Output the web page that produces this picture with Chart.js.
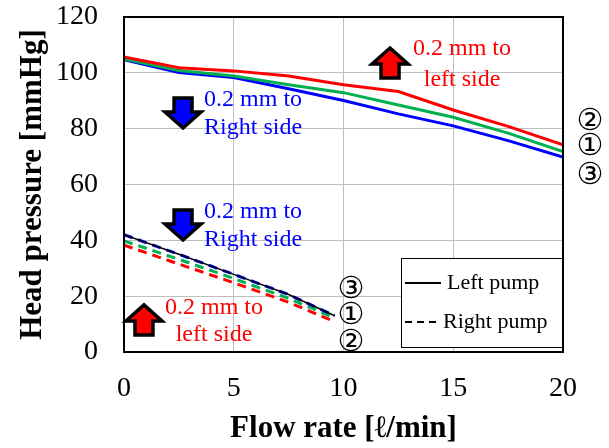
<!DOCTYPE html>
<html>
<head>
<meta charset="utf-8">
<script src="https://cdn.jsdelivr.net/npm/chart.js@4"></script>
<style>
  body { margin: 0; background: #fff; }
  canvas { display: block; }
</style>
</head>
<body>
<canvas id="pumpChart" width="609" height="448"></canvas>
<script>
// Flow rate points
const flowUpper = [0, 2.5, 5, 7.5, 10, 12.5, 15, 17.5, 20];
const flowLower = [0, 2.5, 5, 7.5, 9.6];

// Left pump (solid) head pressure, mmHg
const leftRed   = [105.7, 101.8, 100.7, 98.9, 95.7, 93.3, 86.7, 80.8, 74.2];
const leftGreen = [105.0, 100.8, 98.9, 95.7, 92.9, 88.5, 84.1, 78.4, 71.8];
const leftBlue  = [104.7, 100.1, 98.3, 94.3, 90.1, 85.3, 81.0, 75.7, 69.8];

// Right pump (dashed) head pressure, mmHg
const rightBlue  = [42.0, 35.0, 27.8, 20.6, 13.0];
const rightGreen = [39.8, 33.2, 26.3, 19.2, 12.2];
const rightRed   = [38.3, 31.5, 24.8, 17.8, 10.9];

const xTicks = [0, 5, 10, 15, 20];
const yTicks = [0, 20, 40, 60, 80, 100, 120];

const RED = '#ff0000', GREEN = '#00b050', BLUE = '#0000ff';
const SERIF = '"Liberation Serif", "Times New Roman", serif';

const pts = (xs, ys) => xs.map((x, i) => ({ x: x, y: ys[i] }));

function line(data, color, dashed, order, width) {
  return {
    data: data,
    borderColor: color,
    borderWidth: width || 3,
    borderDash: dashed ? [9, 6] : [],
    pointRadius: 0,
    fill: false,
    tension: 0,
    order: order
  };
}

// arrow, text and numbering drawn on top of the chart
const notes = {
  id: 'notes',
  afterDraw(chart) {
    const ctx = chart.ctx;
    const xs = chart.scales.x, ys = chart.scales.y;
    const a = chart.chartArea;
    const px = v => xs.getPixelForValue(v);
    const py = v => ys.getPixelForValue(v);

    // plot border
    ctx.save();
    ctx.strokeStyle = '#000';
    ctx.lineWidth = 2;
    ctx.strokeRect(a.left, a.top, a.right - a.left, a.bottom - a.top);

    function arrow(xv, yv, up, color) {
      const cx = px(xv), cy = py(yv);
      const w = 18, s = 9, h = 16, half = 15;
      const d = up ? -1 : 1;
      ctx.beginPath();
      ctx.moveTo(cx, cy + d * half);
      ctx.lineTo(cx + w, cy + d * (half - h));
      ctx.lineTo(cx + s, cy + d * (half - h));
      ctx.lineTo(cx + s, cy - d * half);
      ctx.lineTo(cx - s, cy - d * half);
      ctx.lineTo(cx - s, cy + d * (half - h));
      ctx.lineTo(cx - w, cy + d * (half - h));
      ctx.closePath();
      ctx.fillStyle = color;
      ctx.fill();
      ctx.lineWidth = 3.5;
      ctx.lineJoin = 'miter';
      ctx.strokeStyle = '#000';
      ctx.stroke();
    }

    function text(str, xv, yv, color, font) {
      ctx.fillStyle = color;
      ctx.font = font;
      ctx.textAlign = 'center';
      ctx.textBaseline = 'middle';
      ctx.fillText(str, px(xv), py(yv));
    }

    const noteFont = '24px ' + SERIF;
    arrow(12.12, 103.5, true, RED);
    text('0.2 mm to', 15.4, 108.6, RED, noteFont);
    text('left side', 15.4, 97.6, RED, noteFont);

    arrow(2.69, 85.6, false, BLUE);
    text('0.2 mm to', 5.88, 90.3, BLUE, noteFont);
    text('Right side', 5.88, 80.2, BLUE, noteFont);

    arrow(2.69, 45.5, false, BLUE);
    text('0.2 mm to', 5.88, 50.1, BLUE, noteFont);
    text('Right side', 5.88, 40.1, BLUE, noteFont);

    arrow(0.91, 11.5, true, RED);
    text('0.2 mm to', 4.1, 15.8, RED, noteFont);
    text('left side', 4.1, 6.1, RED, noteFont);

    // circled numbers
    const numFont = '30px "DejaVu Sans", sans-serif';
    text('②', 21.23, 82.4, '#000', numFont);
    text('①', 21.23, 73.4, '#000', numFont);
    text('③', 21.23, 63.0, '#000', numFont);
    text('③', 10.34, 22.2, '#000', numFont);
    text('①', 10.34, 12.9, '#000', numFont);
    text('②', 10.34, 3.2, '#000', numFont);

    // legend box
    const bw = 162, bh = 90;
    const bx = a.right - bw, by = a.bottom - bh - 4;
    ctx.fillStyle = '#fff';
    ctx.fillRect(bx, by, bw, bh);
    ctx.strokeStyle = '#000';
    ctx.lineWidth = 1;
    ctx.strokeRect(bx + 0.5, by + 0.5, bw - 1, bh - 1);
    ctx.lineWidth = 2;
    ctx.beginPath();
    ctx.moveTo(bx + 4, by + 25);
    ctx.lineTo(bx + 40, by + 25);
    ctx.stroke();
    ctx.setLineDash([7, 5]);
    ctx.beginPath();
    ctx.moveTo(bx + 4, by + 64);
    ctx.lineTo(bx + 40, by + 64);
    ctx.stroke();
    ctx.setLineDash([]);
    ctx.fillStyle = '#000';
    ctx.font = '22px ' + SERIF;
    ctx.textAlign = 'left';
    ctx.textBaseline = 'middle';
    ctx.fillText('Left pump', bx + 46, by + 25);
    ctx.fillText('Right pump', bx + 42, by + 64);
    ctx.restore();
  }
};

new Chart(document.getElementById('pumpChart'), {
  type: 'line',
  data: {
    datasets: [
      line(pts(flowLower, rightBlue), '#000', false, 0, 1.5),
      line(pts(flowUpper, leftRed), RED, false, 1),
      line(pts(flowUpper, leftGreen), GREEN, false, 2),
      line(pts(flowUpper, leftBlue), BLUE, false, 3),
      line(pts(flowLower, rightBlue), BLUE, true, 4),
      line(pts(flowLower, rightGreen), GREEN, true, 5),
      line(pts(flowLower, rightRed), RED, true, 6)
    ]
  },
  options: {
    responsive: false,
    animation: false,
    layout: { padding: { top: 17, right: 46, left: 0, bottom: 0 } },
    plugins: { legend: { display: false }, tooltip: { enabled: false } },
    scales: {
      x: {
        type: 'linear',
        min: 0, max: 20,
        afterBuildTicks: s => { s.ticks = xTicks.map(v => ({ value: v })); },
        afterFit: s => { s.height = 96; s.paddingLeft = 0; s.paddingRight = 0; },
        grid: { color: '#bfbfbf', lineWidth: 1, drawTicks: false },
        border: { display: false },
        ticks: { color: '#000', padding: 20, maxRotation: 0, font: { family: SERIF, size: 28 } },
        title: {
          display: true,
          text: 'Flow rate [ℓ/min]',
          color: '#000',
          padding: { top: 0, bottom: 0 },
          font: { family: SERIF, size: 31, weight: 'bold' }
        }
      },
      y: {
        min: 0, max: 120,
        afterBuildTicks: s => { s.ticks = yTicks.map(v => ({ value: v })); },
        afterFit: s => { s.width = 124; s.paddingTop = 0; s.paddingBottom = 0; },
        grid: { color: '#bfbfbf', lineWidth: 1, drawTicks: false },
        border: { display: false },
        ticks: { color: '#000', padding: 26, font: { family: SERIF, size: 28 } },
        title: {
          display: true,
          text: 'Head pressure [mmHg]',
          color: '#000',
          padding: { top: 14, bottom: 0 },
          font: { family: SERIF, size: 31, weight: 'bold' }
        }
      }
    }
  },
  plugins: [notes]
});
</script>
</body>
</html>
